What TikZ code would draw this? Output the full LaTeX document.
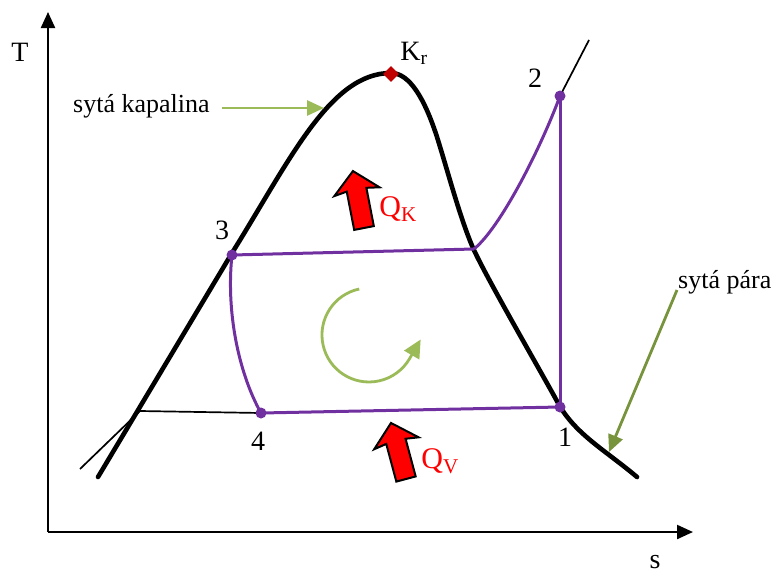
\documentclass[tikz,border=0pt]{standalone}
\usepackage{fontspec}
\setmainfont{Liberation Serif}
\usetikzlibrary{arrows.meta,calc}
\definecolor{cyc}{HTML}{7030A0}
\definecolor{lgreen}{HTML}{9BBB59}
\definecolor{dgreen}{HTML}{77933C}
\definecolor{kred}{HTML}{C00000}
\tikzset{
  axis/.style={line width=2.2pt, draw=black, -{Triangle[length=16pt,width=14pt]}},
  dome/.style={line width=4.6pt, line cap=round, line join=round},
  thin/.style={line width=1.7pt},
  cycline/.style={draw=cyc, line width=3pt},
  dot/.style={circle, fill=cyc, inner sep=0pt, minimum size=11pt},
  lbl/.style={font=\fontsize{28}{30}\selectfont, inner sep=1pt},
  txt/.style={font=\fontsize{26}{28}\selectfont, inner sep=1pt},
  qlbl/.style={font=\fontsize{30}{32}\selectfont, text=red, inner sep=1pt},
  garrow/.style={line width=2.8pt, -{Triangle[length=17pt,width=15pt]}},
  blockarr/.style={fill=red, draw=black, line width=2pt, line join=miter}
}
\newcommand\myblockarrow{(-10,0) -- (10,0) -- (10,-39) -- (23,-37) -- (0,-58) -- (-23,-37) -- (-10,-39) -- cycle}
\begin{document}
\begin{tikzpicture}[x=1pt,y=-1pt]
\useasboundingbox (0,0) rectangle (775,573);
% axes
\coordinate (O) at (48,532);
\coordinate (Ty) at (48,12);
\coordinate (Sx) at (693,532);
\draw[axis] (O) -- (Ty);
\draw[axis] (O) -- (Sx);
\node[lbl] (T) at (20,52) {T};
\node[lbl] (S) at (655,562) {s};
% saturation dome
\draw[dome] (98,477) -- (232,253) .. controls (290,160) and (330,73) .. (391,73)
  .. controls (410,73) and (425,100) .. (437,137)
  .. controls (448,172) and (460,218) .. (473,248)
  .. controls (486,277) and (540,370) .. (558,403)
  .. controls (575,434) and (605,450) .. (637,477);
% points
\coordinate (p1) at (560,407);
\coordinate (p2) at (560,96);
\coordinate (p3) at (232,255);
\coordinate (p4) at (261,413);
\coordinate (pa) at (474,249);
\coordinate (pl) at (140,411);
\coordinate (pe) at (80,469);
\coordinate (pt) at (589,40);
% thin lines
\draw[thin] (pe) -- (pl) -- (p4);
\draw[thin] (p2) -- (pt);
% cycle
\draw[cycline] (p1) -- (p2);
\draw[cycline] (p2) .. controls (540,150) and (500,228) .. (pa);
\draw[cycline] (pa) -- (p3);
\draw[cycline] (p3) .. controls (226,310) and (238,372) .. (p4);
\draw[cycline] (p4) -- (p1);
\node[dot] (d1) at (p1) {};
\node[dot] (d2) at (p2) {};
\node[dot] (d3) at (p3) {};
\node[dot] (d4) at (p4) {};
% critical point
\node[fill=kred, minimum size=11pt, inner sep=0pt, rotate=45] (kr) at (391,74) {};
\node[lbl] (krl) at (414,53) {K\textsubscript{r}};
% point labels
\node[lbl] (l1) at (565,437) {1};
\node[lbl] (l2) at (535,78) {2};
\node[lbl] (l3) at (222,230) {3};
\node[lbl] (l4) at (258,441) {4};
% saturated liquid / vapour labels
\node[txt, anchor=west] (sk) at (72,106) {syt\'a kapalina};
\coordinate (skend) at (324,108);
\draw[garrow, lgreen] (222,108) -- (skend);
\node[txt, anchor=west] (sp) at (677,282) {syt\'a p\'ara};
\coordinate (spend) at (609,452);
\draw[garrow, dgreen] (677,290) -- (spend);
% heat arrows
\begin{scope}[shift={(364,228)}, rotate=11]
  \draw[blockarr] \myblockarrow;
\end{scope}
\node[qlbl] (qk) at (398,209) {Q\textsubscript{K}};
\begin{scope}[shift={(406,479)}, rotate=15]
  \draw[blockarr] \myblockarrow;
\end{scope}
\node[qlbl] (qv) at (440,461) {Q\textsubscript{V}};
% cycle direction
\coordinate (cc) at (369,335);
\draw[lgreen, line width=2.8pt, -{Triangle[length=18pt,width=17pt]}] ($(cc)+(-9.8,-46)$) arc[start angle=-102, end angle=-330, radius=47] -- ++(11,-19);
\end{tikzpicture}
\end{document}
